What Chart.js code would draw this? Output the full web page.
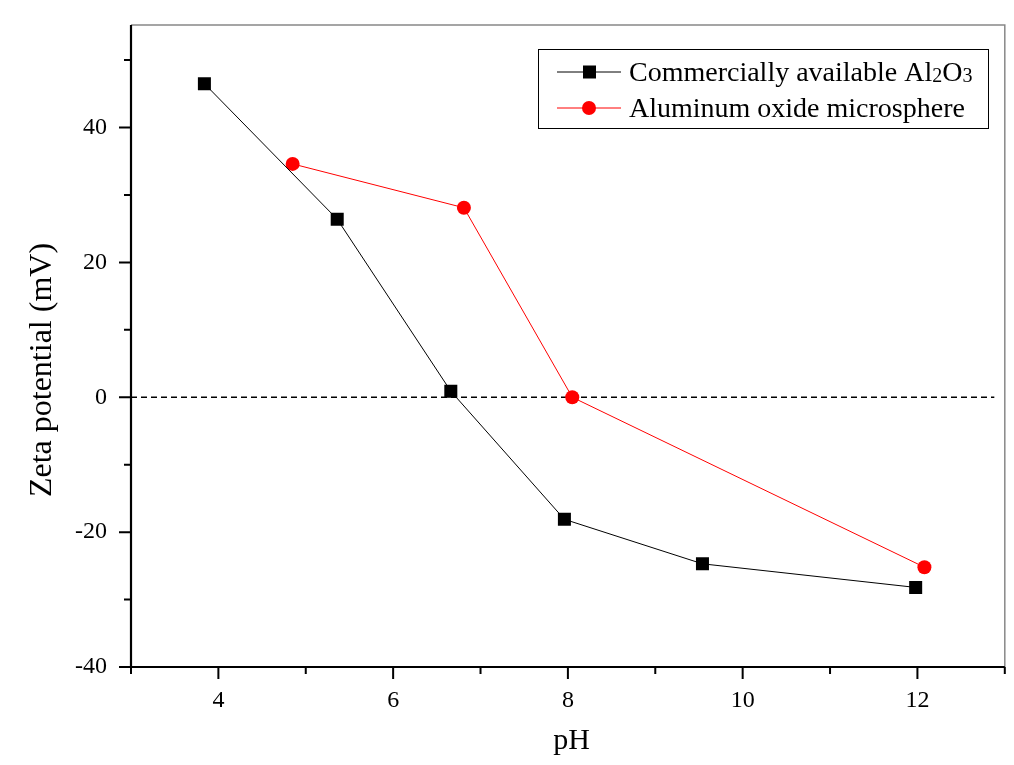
<!DOCTYPE html>
<html>
<head>
<meta charset="utf-8">
<script src="https://cdn.jsdelivr.net/npm/chart.js@4/dist/chart.umd.min.js"></script>
<style>
  html, body { margin: 0; padding: 0; background: #fff; }
  #wrap { width: 1014px; height: 765px; }
</style>
</head>
<body>
<div id="wrap"><canvas id="chart" width="1014" height="765"></canvas></div>
<script>
// values
const commercialPH = [3.84, 5.36, 6.66, 7.96, 9.54, 11.98];
const commercialZeta = [46.5, 26.4, 0.9, -18.1, -24.7, -28.2];
const microPH = [4.85, 6.81, 8.05, 12.08];
const microZeta = [34.6, 28.1, 0.0, -25.2];
const xTickValues = [4, 6, 8, 10, 12];
const yTickValues = [-40, -20, 0, 20, 40];
const zeroLine = 0;

const serif = "'Liberation Serif', 'DejaVu Serif', serif";

const toPoints = (xs, ys) => xs.map((x, i) => ({ x: x, y: ys[i] }));

// axes frame, minor ticks, zero line and the boxed legend
const decorations = {
    id: "decorations",
    beforeDatasetsDraw(chart) {
        const ctx = chart.ctx;
        const a = chart.chartArea;
        const y0 = chart.scales.y.getPixelForValue(zeroLine);
        ctx.save();
        ctx.strokeStyle = "#000";
        ctx.lineWidth = 1.3;
        ctx.setLineDash([6, 4]);
        ctx.beginPath();
        ctx.moveTo(a.left, y0);
        ctx.lineTo(chart.scales.x.getPixelForValue(12.88), y0);
        ctx.stroke();
        ctx.restore();
    },
    afterDraw(chart) {
        const ctx = chart.ctx;
        const a = chart.chartArea;
        const xs = chart.scales.x;
        const ys = chart.scales.y;
        ctx.save();
        // top and right frame, gray
        ctx.strokeStyle = "#888";
        ctx.lineWidth = 1.5;
        ctx.beginPath();
        ctx.moveTo(a.left, a.top);
        ctx.lineTo(a.right, a.top);
        ctx.lineTo(a.right, a.bottom);
        ctx.stroke();
        // left and bottom axes
        ctx.strokeStyle = "#000";
        ctx.lineWidth = 2.2;
        ctx.beginPath();
        ctx.moveTo(a.left, a.top);
        ctx.lineTo(a.left, a.bottom);
        ctx.lineTo(a.right, a.bottom);
        ctx.stroke();
        // ticks (major every 2 / 20, minor halfway)
        ctx.lineWidth = 2;
        ctx.beginPath();
        for (let v = 3; v <= 13.001; v += 1) {
            const px = xs.getPixelForValue(v);
            const len = xTickValues.includes(Math.round(v)) ? 12 : 7;
            ctx.moveTo(px, a.bottom);
            ctx.lineTo(px, a.bottom + len);
        }
        for (let v = -40; v <= 50; v += 10) {
            const py = ys.getPixelForValue(v);
            const len = yTickValues.includes(v) ? 12 : 7;
            ctx.moveTo(a.left, py);
            ctx.lineTo(a.left - len, py);
        }
        ctx.stroke();

        // legend
        const bx = 538, by = 49, bw = 450, bh = 79;
        ctx.fillStyle = "#fff";
        ctx.fillRect(bx, by, bw, bh);
        ctx.strokeStyle = "#000";
        ctx.lineWidth = 1;
        ctx.strokeRect(bx + 0.5, by + 0.5, bw, bh);
        const rows = [72, 108];
        chart.data.datasets.forEach((ds, i) => {
            const y = rows[i];
            ctx.strokeStyle = ds.borderColor;
            ctx.lineWidth = 1;
            ctx.beginPath();
            ctx.moveTo(557, y);
            ctx.lineTo(621, y);
            ctx.stroke();
            ctx.fillStyle = ds.pointBackgroundColor;
            if (ds.pointStyle === "rect") {
                ctx.fillRect(583, y - 6.5, 13, 13);
            } else {
                ctx.beginPath();
                ctx.arc(589, y, 7, 0, Math.PI * 2);
                ctx.fill();
            }
            ctx.fillStyle = "#000";
            ctx.textBaseline = "alphabetic";
            ctx.textAlign = "left";
            let x = 629;
            ds.labelParts.forEach(p => {
                ctx.font = (p.sub ? "20px " : "28px ") + serif;
                ctx.fillText(p.t, x, y + 9 + (p.sub ? 1 : 0));
                x += ctx.measureText(p.t).width;
            });
        });
        ctx.restore();
    }
};

new Chart(document.getElementById("chart"), {
    type: "line",
    data: {
        datasets: [
            {
                label: "Commercially available Al2O3",
                labelParts: [{ t: "Commercially available Al" }, { t: "2", sub: true }, { t: "O" }, { t: "3", sub: true }],
                data: toPoints(commercialPH, commercialZeta),
                borderColor: "#000",
                borderWidth: 1,
                pointStyle: "rect",
                pointRadius: 9.2,
                pointHoverRadius: 9.2,
                pointBackgroundColor: "#000",
                pointBorderWidth: 0,
                tension: 0
            },
            {
                label: "Aluminum oxide microsphere",
                labelParts: [{ t: "Aluminum oxide microsphere" }],
                data: toPoints(microPH, microZeta),
                borderColor: "#f00",
                borderWidth: 1,
                pointStyle: "circle",
                pointRadius: 7,
                pointHoverRadius: 7,
                pointBackgroundColor: "#f00",
                pointBorderWidth: 0,
                tension: 0
            }
        ]
    },
    options: {
        responsive: false,
        animation: false,
        layout: { padding: { top: 25, right: 2, left: 0, bottom: 0 } },
        plugins: { legend: { display: false }, tooltip: { enabled: false } },
        scales: {
            x: {
                type: "linear",
                min: 3,
                max: 13,
                afterBuildTicks: s => { s.ticks = xTickValues.map(v => ({ value: v })); },
                afterFit: s => {
                    s.height = 98;
                    s.paddingLeft = 0; s.paddingRight = 0;
                },
                grid: { display: false, drawTicks: false },
                border: { display: false },
                ticks: {
                    padding: 19,
                    color: "#000",
                    maxRotation: 0,
                    font: { family: serif, size: 24 }
                },
                title: {
                    display: true,
                    text: "\u00A0pH",
                    color: "#000",
                    font: { family: serif, size: 30 },
                    padding: { top: 0, bottom: 6 }
                }
            },
            y: {
                type: "linear",
                min: -40,
                max: 55.2,
                afterBuildTicks: s => { s.ticks = yTickValues.map(v => ({ value: v })); },
                afterFit: s => {
                    s.width = 131;
                    s.paddingTop = 0; s.paddingBottom = 0;
                },
                grid: { display: false, drawTicks: false },
                border: { display: false },
                ticks: {
                    padding: 24,
                    color: "#000",
                    font: { family: serif, size: 24 }
                },
                title: {
                    display: true,
                    text: "Zeta potential (mV)\u00A0\u00A0\u00A0\u00A0\u00A0\u00A0",
                    color: "#000",
                    font: { family: serif, size: 32 },
                    padding: { top: 23, bottom: 0 }
                }
            }
        }
    },
    plugins: [decorations]
});
</script>
</body>
</html>
